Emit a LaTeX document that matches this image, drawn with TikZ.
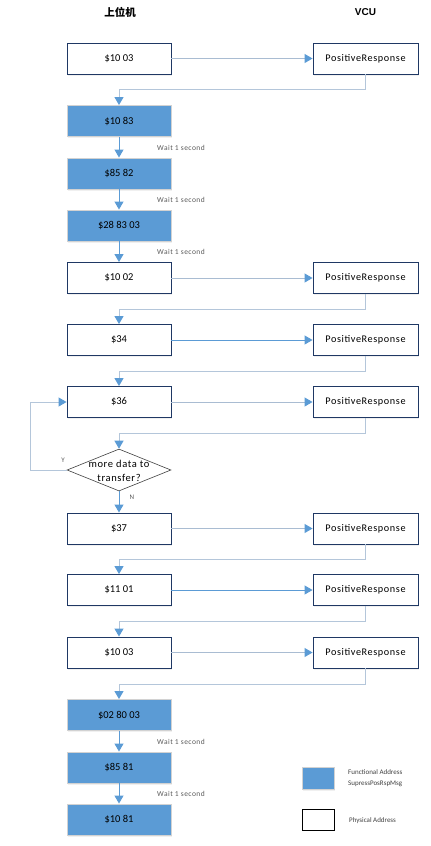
\documentclass[tikz,border=0pt]{standalone}
\usepackage{fontspec}
\setmainfont{Carlito}
\newfontfamily\cjk{Noto Sans CJK SC}
\newfontfamily\arialf{Liberation Sans}
\newfontfamily\wide[LetterSpace=6]{Carlito}
\usetikzlibrary{arrows.meta,shapes.geometric,shadows}
\definecolor{boxblue}{HTML}{5B9BD5}
\definecolor{navy}{HTML}{1F3864}
\definecolor{connc}{HTML}{A9BCD2}
\definecolor{retc}{HTML}{B4C6DA}
\definecolor{greytxt}{HTML}{595959}
\tikzset{
  base/.style={minimum width=104pt, minimum height=31pt, inner sep=0pt,
    font=\fontsize{10.5}{12}\selectfont,
    drop shadow={shadow xshift=1pt, shadow yshift=-1.5pt, opacity=0.12}},
  wbox/.style={base, draw=navy, line width=0.9pt, fill=white},
  bbox/.style={base, draw=gray!35, line width=0.9pt, fill=boxblue},
  rbox/.style={wbox, minimum width=105pt, font=\wide\fontsize{10.2}{12}\selectfont},
  tip/.style={-{Triangle[width=9pt,length=8pt,color=boxblue]}},
  conn/.style={tip, draw=connc, line width=1pt},
  bconn/.style={tip, draw=boxblue, line width=1pt},
  ret/.style={tip, draw=retc, line width=1pt},
  wait/.style={anchor=west, inner sep=0pt, text=greytxt, font=\wide\fontsize{7.5}{9}\selectfont},
  small/.style={inner sep=0pt, text=greytxt, font=\fontsize{7}{8.5}\selectfont},
}
\begin{document}
\begin{tikzpicture}[x=1pt, y=-1pt]
\useasboundingbox (0,0) rectangle (431,846);
% titles
\node (t1) at (120,12) {\cjk\bfseries\fontsize{10.5}{12}\selectfont 上位机};
\node (t2) at (365.5,12) {\arialf\bfseries\fontsize{10}{12}\selectfont VCU};
% left column
\node[wbox] (a1) at (119,58.5) {\$10 03};
\node[bbox] (a2) at (119,121) {\$10 83};
\node[bbox] (a3) at (119,173.5) {\$85 82};
\node[bbox] (a4) at (119,225.5) {\$28 83 03};
\node[wbox] (a5) at (119,278) {\$10 02};
\node[wbox] (a6) at (119,340) {\$34};
\node[wbox] (a7) at (119,402) {\$36};
\node[diamond, draw=black!75, line width=0.6pt, fill=white, minimum width=104pt, minimum height=42pt, inner sep=0pt] (d) at (119,470) {};
\node[align=center, inner sep=0pt, font=\wide\fontsize{10.5}{14}\selectfont] (dt) at (119,471) {more data to\\transfer?};
\node[wbox] (a8) at (119,528.5) {\$37};
\node[wbox] (a9) at (119,590) {\$11 01};
\node[wbox] (a10) at (119,652.5) {\$10 03};
\node[bbox] (a11) at (119,715) {\$02 80 03};
\node[bbox] (a12) at (119,767.5) {\$85 81};
\node[bbox] (a13) at (119,819.5) {\$10 81};
% right column
\node[rbox] (r1) at (365.5,58.5) {PositiveResponse};
\node[rbox] (r5) at (365.5,278) {PositiveResponse};
\node[rbox] (r6) at (365.5,340) {PositiveResponse};
\node[rbox] (r7) at (365.5,402) {PositiveResponse};
\node[rbox] (r8) at (365.5,528.5) {PositiveResponse};
\node[rbox] (r9) at (365.5,590) {PositiveResponse};
\node[rbox] (r10) at (365.5,652.5) {PositiveResponse};
% return-line levels
\coordinate (m1) at (0,89);
\coordinate (m5) at (0,309);
\coordinate (m6) at (0,371);
\coordinate (m7) at (0,433);
\coordinate (m8) at (0,559);
\coordinate (m9) at (0,621);
\coordinate (m10) at (0,684);
\coordinate (loopx) at (30,0);
% requests
\draw[conn] (a1) -- (r1);
\draw[conn] (a5) -- (r5);
\draw[bconn] (a6) -- (r6);
\draw[conn] (a7) -- (r7);
\draw[conn] (a8) -- (r8);
\draw[bconn] (a9) -- (r9);
\draw[conn] (a10) -- (r10);
% returns
\draw[ret] (r1.south) -- (r1.south |- m1) -| (a2.north);
\draw[ret] (r5.south) -- (r5.south |- m5) -| (a6.north);
\draw[ret] (r6.south) -- (r6.south |- m6) -| (a7.north);
\draw[ret] (r7.south) -- (r7.south |- m7) -| (d.north);
\draw[ret] (r8.south) -- (r8.south |- m8) -| (a9.north);
\draw[ret] (r9.south) -- (r9.south |- m9) -| (a10.north);
\draw[ret] (r10.south) -- (r10.south |- m10) -| (a11.north);
% waits
\draw[bconn] (a2) -- (a3);
\draw[bconn] (a3) -- (a4);
\draw[bconn] (a4) -- (a5);
\draw[bconn] (a11) -- (a12);
\draw[bconn] (a12) -- (a13);
\node[wait] (w1) at (157,148) {Wait 1 second};
\node[wait] (w2) at (157,200) {Wait 1 second};
\node[wait] (w3) at (157,252) {Wait 1 second};
\node[wait] (w4) at (157,742) {Wait 1 second};
\node[wait] (w5) at (157,794) {Wait 1 second};
% decision
\draw[bconn] (d.south) -- (a8.north);
\draw[ret] (d.west) -- (d.west -| loopx) |- (a7.west);
\node[small] (ly) at (63,460) {Y};
\node[small] (ln) at (132,497) {N};
% legend
\node[draw=gray!35, line width=0.9pt, fill=boxblue, minimum width=32pt, minimum height=22pt, inner sep=0pt,
  drop shadow={shadow xshift=1pt, shadow yshift=-1.5pt, opacity=0.12}] (lg1) at (318,778) {};
\node[draw=black, line width=0.7pt, fill=white, minimum width=32pt, minimum height=21pt, inner sep=0pt] (lg2) at (318,819.5) {};
\node[small, anchor=west, align=left, font=\fontsize{7}{11}\selectfont, text=black!75] (lt1) at (348,778.5) {Functional Address\\SupressPosRspMsg};
\node[small, anchor=west, text=black!75] (lt2) at (349,821) {Physical Address};
\end{tikzpicture}
\end{document}
